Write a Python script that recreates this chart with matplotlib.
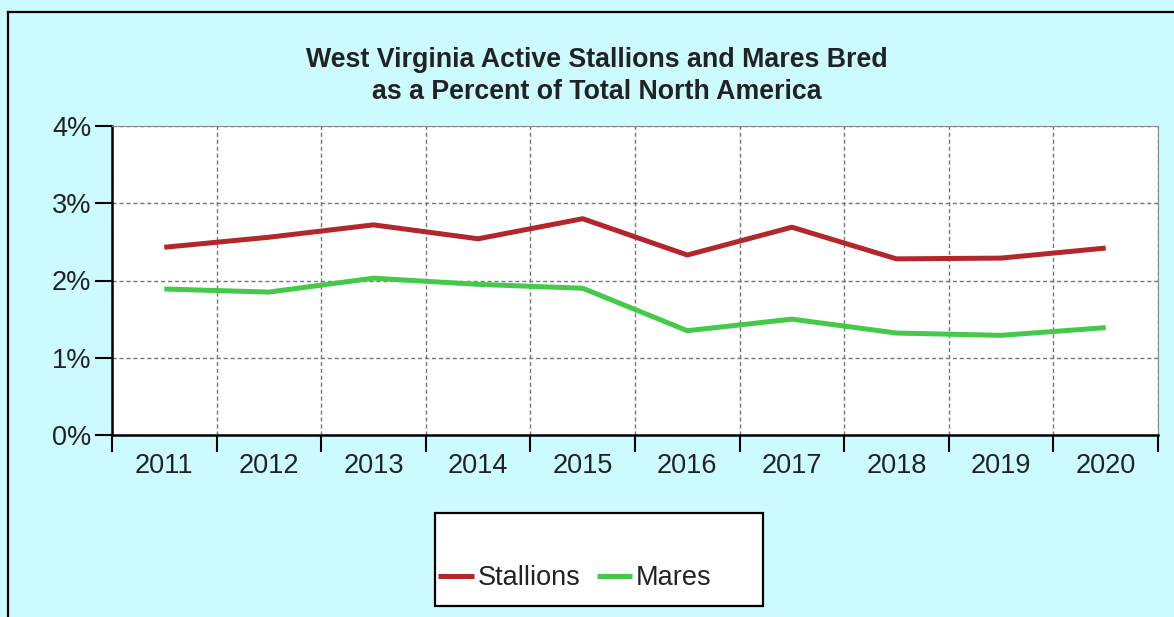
import numpy as np
import matplotlib.pyplot as plt
from matplotlib.patches import Rectangle
from matplotlib.lines import Line2D
from matplotlib.ticker import FuncFormatter, FixedLocator

# data (percent of North America total)
years = ['2011', '2012', '2013', '2014', '2015', '2016', '2017', '2018', '2019', '2020']
stallions = [2.43, 2.56, 2.72, 2.54, 2.80, 2.33, 2.69, 2.28, 2.29, 2.42]
mares = [1.89, 1.85, 2.03, 1.95, 1.90, 1.35, 1.50, 1.32, 1.29, 1.39]

red = '#B3262C'
green = '#44C94A'
bg = '#CCFBFF'

plt.rcParams['font.family'] = ['Liberation Sans', 'DejaVu Sans']

W, H = 1174, 617
fig = plt.figure(figsize=(W / 100, H / 100), dpi=100)
fig.patch.set_facecolor(bg)

# outer frame (only top and left visible in the crop)
fig.add_artist(Line2D([8 / W, 8 / W], [0, 1 - 12 / H], transform=fig.transFigure,
                      color='black', lw=1.6))
fig.add_artist(Line2D([8 / W, 1], [1 - 12 / H, 1 - 12 / H], transform=fig.transFigure,
                      color='black', lw=1.6))

ax = fig.add_axes([112 / W, 1 - 435 / H, (1158 - 112) / W, (435 - 126) / H])
ax.set_facecolor('white')

x = np.arange(len(years))
ax.plot(x, stallions, color=red, lw=3.6, solid_capstyle='butt', label='Stallions')
ax.plot(x, mares, color=green, lw=3.6, solid_capstyle='butt', label='Mares')

ax.set_xlim(-0.5, len(years) - 0.5)
ax.set_ylim(0, 4)

ax.set_xticks(x)
ax.set_xticklabels(years)
ax.xaxis.set_minor_locator(FixedLocator(np.arange(-0.5, len(years), 1)))
ax.tick_params(axis='x', which='major', length=0, pad=13, labelsize=19.5)
ax.tick_params(axis='x', which='minor', length=12, width=1.5, color='black', direction='out')

ax.set_yticks([0, 1, 2, 3, 4])
ax.yaxis.set_major_formatter(FuncFormatter(lambda v, p: f'{v:.0f}%'))
ax.tick_params(axis='y', length=12, width=1.5, color='black', labelsize=19.5, pad=3)

for lab in ax.get_xticklabels() + ax.get_yticklabels():
    lab.set_color('#222222')

ax.grid(True, axis='x', which='minor', color='#777777', ls=(0, (3, 2)), lw=1)
ax.grid(True, axis='y', which='major', color='#777777', ls=(0, (3, 2)), lw=1)
ax.set_axisbelow(True)

ax.spines['left'].set_color('black')
ax.spines['left'].set_linewidth(1.8)
ax.spines['bottom'].set_color('black')
ax.spines['bottom'].set_linewidth(1.8)
ax.spines['top'].set_color('#888888')
ax.spines['right'].set_color('#888888')

fig.text(597 / W, 1 - 76 / H,
         'West Virginia Active Stallions and Mares Bred\nas a Percent of Total North America',
         ha='center', va='center', fontsize=19.3, fontweight='bold', linespacing=1.28,
         color='#222222')

# legend box
fig.add_artist(Rectangle((435 / W, 1 - 606 / H), (763 - 435) / W, (606 - 513) / H,
                         transform=fig.transFigure, facecolor='white', edgecolor='black',
                         lw=1.6))
fig.legend(loc='center', bbox_to_anchor=(575 / W, 1 - 578 / H), ncol=2, frameon=False,
           fontsize=19.5, handlelength=1.3, handletextpad=0.15, columnspacing=0.6,
           labelcolor='#222222')

fig.savefig('out.png', dpi=100, facecolor=bg)
